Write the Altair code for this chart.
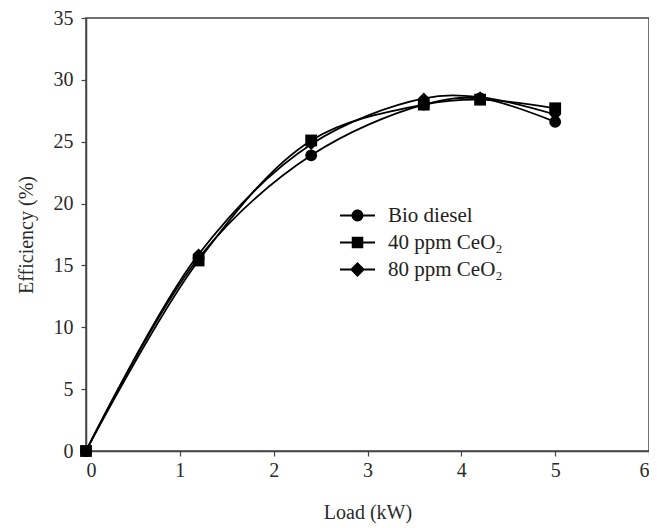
import altair as alt
import pandas as pd

load = [0, 1.2, 2.4, 3.6, 4.2, 5]
bio_diesel = [0, 15.6, 23.9, 28.0, 28.5, 26.6]
ppm40 = [0, 15.4, 25.1, 28.0, 28.4, 27.7]
ppm80 = [0, 15.9, 24.8, 28.5, 28.6, 27.2]
series_names = ["Bio diesel", "40 ppm CeO₂", "80 ppm CeO₂"]
x_ticks = [0, 1, 2, 3, 4, 5, 6]
y_ticks = [0, 5, 10, 15, 20, 25, 30, 35]

rows = []
for name, vals in zip(series_names, [bio_diesel, ppm40, ppm80]):
    for xv, yv in zip(load, vals):
        rows.append({"Series": name, "Load": xv, "Eff": yv})
df = pd.DataFrame(rows)

FONT = "Liberation Serif"

x_enc = alt.X("Load:Q", scale=alt.Scale(domain=[0, 6], nice=False),
              axis=alt.Axis(values=x_ticks, title="Load (kW)", grid=False,
                            titlePadding=22, labelPadding=4))
y_enc = alt.Y("Eff:Q", scale=alt.Scale(domain=[0, 35], nice=False),
              axis=alt.Axis(values=y_ticks, title="Efficiency (%)", grid=False,
                            titlePadding=17, labelPadding=8))

lines = alt.Chart(df).mark_line(interpolate="catmull-rom", color="black",
                                strokeWidth=1.8).encode(
    x=x_enc, y=y_enc, detail="Series:N")

points = alt.Chart(df).mark_point(filled=True, color="black", opacity=1,
                                  size=140).encode(
    x=x_enc, y=y_enc,
    shape=alt.Shape("Series:N",
                    scale=alt.Scale(domain=series_names,
                                    range=["circle", "square", "diamond"]),
                    legend=None))

# legend glyphs: marker plus a short horizontal bar, all drawn clockwise
bar = "M-1.52,-0.08H1.52V0.08H-1.52Z"
circ = "M-0.52,0A0.52,0.52 0 1,1 0.52,0A0.52,0.52 0 1,1 -0.52,0Z" + bar
sq = "M-0.5,-0.5H0.5V0.5H-0.5Z" + bar
dia = "M0,-0.65L0.65,0L0,0.65L-0.65,0Z" + bar

legend_layer = alt.Chart(df).transform_filter("false").mark_point(
    filled=True, color="black", opacity=1).encode(
    x=x_enc, y=y_enc,
    shape=alt.Shape("Series:N",
                    scale=alt.Scale(domain=series_names, range=[circ, sq, dia]),
                    legend=alt.Legend(title=None, orient="none", legendX=260,
                                      legendY=186, symbolSize=529,
                                      symbolFillColor="black",
                                      symbolStrokeWidth=0, symbolOpacity=1,
                                      rowPadding=5, labelOffset=19,
                                      labelFont=FONT, labelFontSize=21,
                                      labelColor="#222", padding=0)))

chart = alt.layer(lines, points, legend_layer).resolve_scale(
    shape="independent"
).properties(
    width=563, height=433,
    autosize=alt.AutoSizeParams(type="none"),
    padding={"left": 78, "top": 10, "right": 0, "bottom": 75},
).configure_view(
    stroke="#444", strokeWidth=1.5
).configure_axis(
    labelFont=FONT, labelFontSize=20, labelColor="#2a2a2a",
    titleFont=FONT, titleFontSize=20, titleFontWeight="normal", titleColor="#2a2a2a",
    domainColor="#444", domainWidth=1.5, tickColor="#444", tickSize=5,
    tickWidth=1.2
)

chart.save("out.html", embed_options={"renderer": "svg", "actions": False})
